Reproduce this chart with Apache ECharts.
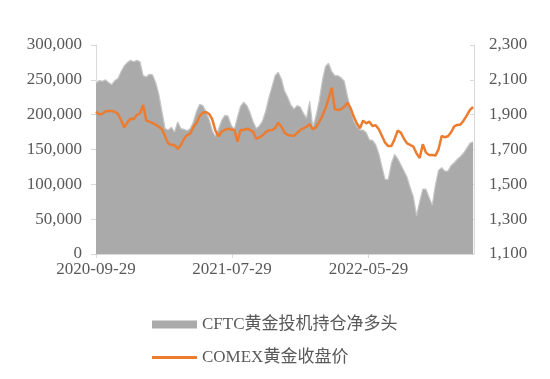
<!DOCTYPE html>
<html><head><meta charset="utf-8">
<script src="https://cdn.jsdelivr.net/npm/echarts@6/dist/echarts.min.js"></script>
<style>html,body{margin:0;padding:0;background:#fff}#c{width:550px;height:379px}</style>
</head><body><div id="c"></div>
<script>
const dates = [
'2020-09-29','2020-10-06','2020-10-13','2020-10-20','2020-10-27','2020-11-03','2020-11-10','2020-11-17','2020-11-24','2020-12-01',
'2020-12-08','2020-12-15','2020-12-22','2020-12-29','2021-01-05','2021-01-12','2021-01-19','2021-01-26','2021-02-02','2021-02-09',
'2021-02-16','2021-02-23','2021-03-02','2021-03-09','2021-03-16','2021-03-23','2021-03-30','2021-04-06','2021-04-13','2021-04-20',
'2021-04-27','2021-05-04','2021-05-11','2021-05-18','2021-05-25','2021-06-01','2021-06-08','2021-06-15','2021-06-22','2021-06-29',
'2021-07-06','2021-07-13','2021-07-20','2021-07-27','2021-08-03','2021-08-10','2021-08-17','2021-08-24','2021-08-31','2021-09-07',
'2021-09-14','2021-09-21','2021-09-28','2021-10-05','2021-10-12','2021-10-19','2021-10-26','2021-11-02','2021-11-09','2021-11-16',
'2021-11-23','2021-11-30','2021-12-07','2021-12-14','2021-12-21','2021-12-28','2022-01-04','2022-01-11','2022-01-18','2022-01-25',
'2022-02-01','2022-02-08','2022-02-15','2022-02-22','2022-03-01','2022-03-08','2022-03-15','2022-03-22','2022-03-29','2022-04-05',
'2022-04-12','2022-04-19','2022-04-26','2022-05-03','2022-05-10','2022-05-17','2022-05-24','2022-05-31','2022-06-07','2022-06-14',
'2022-06-21','2022-06-28','2022-07-05','2022-07-12','2022-07-19','2022-07-26','2022-08-02','2022-08-09','2022-08-16','2022-08-23',
'2022-08-30','2022-09-06','2022-09-13','2022-09-20','2022-09-27','2022-10-04','2022-10-11','2022-10-18','2022-10-25','2022-11-01',
'2022-11-08','2022-11-15','2022-11-22','2022-11-29','2022-12-06','2022-12-13','2022-12-20','2022-12-27','2023-01-03','2023-01-10',
'2023-01-17'
];
const cftcNetLong = [
245000,249000,248000,250000,246000,243000,249000,252000,262000,270000,
275000,278000,276000,278000,276000,256000,254000,258000,257000,246000,
229000,204000,180000,178000,182000,175000,190000,180000,179000,177000,
180000,190000,205000,215000,213000,204000,193000,177000,169000,179000,
192000,199000,198000,185000,179000,196000,212000,218000,213000,203000,
190000,180000,184000,191000,205000,224000,240000,256000,261000,251000,
234000,225000,214000,208000,213000,211000,202000,195000,219000,182000,
198000,219000,248000,269000,274000,262000,256000,256000,253000,248000,
227000,209000,191000,183000,178000,178000,174000,164000,163000,157000,
144000,125000,107000,107000,130000,143000,137000,128000,119000,110000,
95000,82000,55000,75000,93000,93000,81000,70000,99000,120000,
124000,119000,119000,127000,131000,136000,140000,145000,152000,159000,
161000
];
const comexClose = [
1917,1902,1904,1919,1921,1921,1917,1904,1866,1827,
1856,1877,1875,1898,1908,1956,1866,1860,1852,1843,
1831,1816,1774,1735,1726,1726,1703,1726,1762,1783,
1791,1829,1854,1892,1911,1915,1904,1873,1808,1776,
1802,1812,1820,1814,1814,1745,1812,1812,1820,1812,
1802,1762,1770,1781,1799,1810,1812,1823,1854,1831,
1797,1783,1781,1778,1795,1812,1822,1831,1845,1816,
1827,1858,1892,1936,1990,2055,1931,1927,1931,1946,
1969,1938,1889,1850,1822,1866,1850,1860,1835,1839,
1816,1778,1739,1720,1720,1758,1808,1797,1762,1735,
1726,1716,1678,1651,1730,1682,1668,1668,1665,1701,
1778,1770,1776,1799,1833,1841,1843,1867,1896,1927,
1944
];
const xTickLabels = ['2020-09-29','2021-07-29','2022-05-29'];
const xRange = ['2020-09-29','2023-01-19'];
const seriesNames = ['CFTC黄金投机持仓净多头','COMEX黄金收盘价'];

function ts(s){const p=s.split('-');return Date.UTC(+p[0],+p[1]-1,+p[2]);}
function pad(n){return (n<10?'0':'')+n;}
function fmtDate(v){const d=new Date(v);return d.getUTCFullYear()+'-'+pad(d.getUTCMonth()+1)+'-'+pad(d.getUTCDate());}
function thousands(v){return String(v).replace(/\B(?=(\d{3})+(?!\d))/g, ',');}

const FONT = "'Liberation Serif','Noto Sans CJK SC',serif";
const LBL = '#595959';
const AX = '#d9d9d9';
const xTickVals = xTickLabels.map(ts);

const chart = echarts.init(document.getElementById('c'), null, {renderer:'canvas'});
chart.setOption({
  animation:false,
  backgroundColor:'#ffffff',
  grid:{left:96,right:76,top:45,bottom:125,containLabel:false},
  legend:[
    {data:[{name:seriesNames[0],icon:'rect'}],orient:'vertical',left:147,top:311,itemWidth:45,itemHeight:8,
     textStyle:{fontFamily:FONT,fontSize:17,color:LBL},selectedMode:false},
    {data:[{name:seriesNames[1],icon:'rect'}],orient:'vertical',left:147,top:344,itemWidth:45,itemHeight:3,
     textStyle:{fontFamily:FONT,fontSize:17,color:LBL},selectedMode:false}
  ],
  xAxis:{
    type:'value', min:ts(xRange[0]), max:ts(xRange[1]), scale:true,
    axisLine:{show:true,onZero:false,lineStyle:{color:AX,width:1}},
    axisTick:{show:true,customValues:xTickVals,length:4,lineStyle:{color:AX}},
    axisLabel:{customValues:xTickVals,formatter:function(v){return fmtDate(v);},
      fontFamily:FONT,fontSize:17,color:LBL,margin:7},
    splitLine:{show:false}
  },
  yAxis:[
    {type:'value',min:0,max:300000,interval:50000,position:'left',
     axisLine:{show:true,lineStyle:{color:AX}},
     axisTick:{show:true,length:5,lineStyle:{color:AX}},
     axisLabel:{formatter:function(v){return thousands(v);},fontFamily:FONT,fontSize:17,color:LBL,margin:14},
     splitLine:{show:false}},
    {type:'value',min:1100,max:2300,interval:200,position:'right',
     axisLine:{show:true,lineStyle:{color:AX}},
     axisTick:{show:true,inside:true,length:4,lineStyle:{color:AX}},
     axisLabel:{formatter:function(v){return thousands(v);},fontFamily:FONT,fontSize:17,color:LBL,margin:15},
     splitLine:{show:false}}
  ],
  series:[
    {name:seriesNames[0],type:'line',yAxisIndex:0,symbol:'none',
     data:dates.map((d,i)=>[ts(d),cftcNetLong[i]]),
     itemStyle:{color:'#aaaaaa'},
     lineStyle:{color:'#c6c6c6',width:1.2},
     areaStyle:{color:'#aaaaaa',opacity:1},z:1},
    {name:seriesNames[1],type:'line',yAxisIndex:1,symbol:'none',
     data:dates.map((d,i)=>[ts(d),comexClose[i]]),
     itemStyle:{color:'#eb7c30'},
     lineStyle:{color:'#eb7c30',width:2.5},z:3}
  ]
});
</script>
</body></html>
